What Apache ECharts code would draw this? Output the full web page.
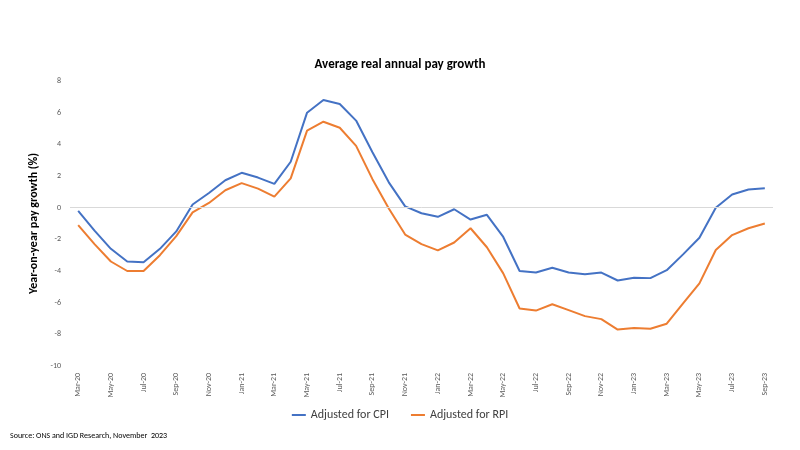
<!DOCTYPE html>
<html>
<head>
<meta charset="utf-8">
<script src="https://cdn.jsdelivr.net/npm/echarts@6/dist/echarts.min.js"></script>
<style>html,body{margin:0;padding:0;background:#fff}#c{width:800px;height:450px}</style>
</head>
<body>
<div id="c"></div>
<script>
const months = ["Mar-20","Apr-20","May-20","Jun-20","Jul-20","Aug-20","Sep-20","Oct-20","Nov-20","Dec-20",
"Jan-21","Feb-21","Mar-21","Apr-21","May-21","Jun-21","Jul-21","Aug-21","Sep-21","Oct-21","Nov-21","Dec-21",
"Jan-22","Feb-22","Mar-22","Apr-22","May-22","Jun-22","Jul-22","Aug-22","Sep-22","Oct-22","Nov-22","Dec-22",
"Jan-23","Feb-23","Mar-23","Apr-23","May-23","Jun-23","Jul-23","Aug-23","Sep-23"];
const cpi = [-0.2,-1.45,-2.6,-3.4,-3.45,-2.6,-1.5,0.2,0.93,1.73,
2.2,1.9,1.5,2.9,6.0,6.8,6.55,5.5,3.5,1.6,0.08,-0.35,
-0.58,-0.1,-0.75,-0.45,-1.85,-4.0,-4.1,-3.8,-4.1,-4.2,-4.1,-4.6,
-4.43,-4.45,-3.95,-2.95,-1.9,0.0,0.83,1.15,1.22];
const rpi = [-1.1,-2.3,-3.4,-4.0,-4.0,-3.0,-1.8,-0.3,0.3,1.1,
1.55,1.2,0.7,1.85,4.87,5.43,5.05,3.9,1.8,-0.05,-1.7,-2.3,
-2.7,-2.2,-1.3,-2.5,-4.15,-6.37,-6.5,-6.1,-6.47,-6.85,-7.04,-7.7,
-7.6,-7.65,-7.33,-6.05,-4.78,-2.67,-1.73,-1.3,-1.0];
const yTicks = {min:-10, max:8, interval:2};

const F = 'Carlito, "Liberation Sans Narrow", "Liberation Sans", sans-serif';
const chart = echarts.init(document.getElementById('c'));
chart.setOption({
  backgroundColor:'#fff',
  animation:false,
  title:{text:'Average real annual pay growth', left:'center', top:53,
    textStyle:{fontFamily:F, fontSize:13, fontWeight:'bold', color:'#000'}},
  graphic:[{type:'text', left:10, top:432,
    style:{text:'Source: ONS and IGD Research, November  2023', fontFamily:F, fontSize:8, fill:'#000'}}],
  legend:{bottom:24, left:'center', icon:'rect', itemWidth:14, itemHeight:2, itemGap:22,
    textStyle:{fontFamily:F, fontSize:12, color:'#404040'},
    data:['Adjusted for CPI','Adjusted for RPI']},
  grid:{left:70, right:27, top:81, bottom:84},
  xAxis:{type:'category', data:months, boundaryGap:true,
    axisLine:{show:false, onZero:false}, axisTick:{show:false},
    axisLabel:{rotate:90, interval:1, fontFamily:F, fontSize:8, color:'#595959', margin:7}},
  yAxis:{type:'value', min:yTicks.min, max:yTicks.max, interval:yTicks.interval,
    name:'Year-on-year pay growth (%)', nameLocation:'middle', nameGap:29,
    nameTextStyle:{fontFamily:F, fontSize:12, fontWeight:'bold', color:'#000'},
    axisLine:{show:false}, axisTick:{show:false}, splitLine:{show:false},
    axisLabel:{fontFamily:F, fontSize:8, color:'#595959', margin:9}},
  series:[
    {name:'Adjusted for CPI', type:'line', data:cpi, symbol:'none', lineStyle:{width:2, color:'#4472C4'}, itemStyle:{color:'#4472C4'},
      markLine:{silent:true, symbol:'none', label:{show:false}, lineStyle:{color:'#d9d9d9', width:1, type:'solid'}, data:[{yAxis:0}]}},
    {name:'Adjusted for RPI', type:'line', data:rpi, symbol:'none', lineStyle:{width:2, color:'#ED7D31'}, itemStyle:{color:'#ED7D31'}}
  ]
});
</script>
</body>
</html>
